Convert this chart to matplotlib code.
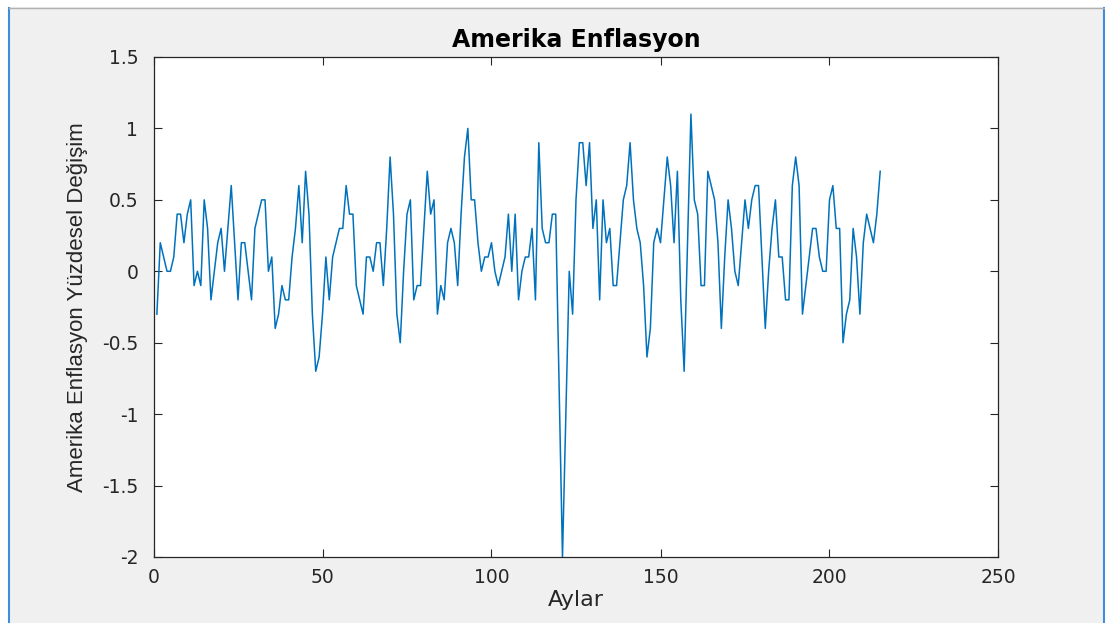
import matplotlib
matplotlib.use("Agg")
import matplotlib.pyplot as plt
from matplotlib.patches import Rectangle
from matplotlib.lines import Line2D
import numpy as np

# ---- data (monthly % change) ----
values = [
    -0.3, 0.2, 0.1, 0.0, 0.0, 0.1, 0.4, 0.4, 0.2, 0.4,
    0.5, -0.1, 0.0, -0.1, 0.5, 0.3, -0.2, 0.0, 0.2, 0.3,
    0.0, 0.3, 0.6, 0.2, -0.2, 0.2, 0.2, 0.0, -0.2, 0.3,
    0.4, 0.5, 0.5, 0.0, 0.1, -0.4, -0.3, -0.1, -0.2, -0.2,
    0.1, 0.3, 0.6, 0.2, 0.7, 0.4, -0.3, -0.7, -0.6, -0.3,
    0.1, -0.2, 0.1, 0.2, 0.3, 0.3, 0.6, 0.4, 0.4, -0.1,
    -0.2, -0.3, 0.1, 0.1, 0.0, 0.2, 0.2, -0.1, 0.3, 0.8,
    0.4, -0.3, -0.5, 0.0, 0.4, 0.5, -0.2, -0.1, -0.1, 0.3,
    0.7, 0.4, 0.5, -0.3, -0.1, -0.2, 0.2, 0.3, 0.2, -0.1,
    0.4, 0.8, 1.0, 0.5, 0.5, 0.2, 0.0, 0.1, 0.1, 0.2,
    0.0, -0.1, 0.0, 0.1, 0.4, 0.0, 0.4, -0.2, 0.0, 0.1,
    0.1, 0.3, -0.2, 0.9, 0.3, 0.2, 0.2, 0.4, 0.4, -0.8,
    -2.0, -1.0, 0.0, -0.3, 0.5, 0.9, 0.9, 0.6, 0.9, 0.3,
    0.5, -0.2, 0.5, 0.2, 0.3, -0.1, -0.1, 0.2, 0.5, 0.6,
    0.9, 0.5, 0.3, 0.2, -0.1, -0.6, -0.4, 0.2, 0.3, 0.2,
    0.5, 0.8, 0.6, 0.2, 0.7, -0.2, -0.7, 0.2, 1.1, 0.5,
    0.4, -0.1, -0.1, 0.7, 0.6, 0.5, 0.2, -0.4, 0.1, 0.5,
    0.3, 0.0, -0.1, 0.2, 0.5, 0.3, 0.5, 0.6, 0.6, 0.1,
    -0.4, 0.0, 0.3, 0.5, 0.1, 0.1, -0.2, -0.2, 0.6, 0.8,
    0.6, -0.3, -0.1, 0.1, 0.3, 0.3, 0.1, 0.0, 0.0, 0.5,
    0.6, 0.3, 0.3, -0.5, -0.3, -0.2, 0.3, 0.1, -0.3, 0.2,
    0.4, 0.3, 0.2, 0.4, 0.7,
]
months = list(range(1, len(values) + 1))

x_ticks = [0, 50, 100, 150, 200, 250]
y_ticks = [-2, -1.5, -1, -0.5, 0, 0.5, 1, 1.5]
y_tick_labels = ["-2", "-1.5", "-1", "-0.5", "0", "0.5", "1", "1.5"]

title_text = "Amerika Enflasyon"
x_label = "Aylar"
y_label = "Amerika Enflasyon Yüzdesel Değişim"

# ---- figure ----
W, H = 1105, 623
fig = plt.figure(figsize=(W / 100, H / 100), dpi=100, facecolor="white")

# window-like frame
fig.add_artist(Rectangle((9 / W, 0), (1103 - 9) / W, 1 - 7 / H,
                         transform=fig.transFigure, facecolor="#F0F0F0",
                         edgecolor="none", zorder=0))
fig.add_artist(Line2D([8.5 / W, 8.5 / W], [0, 1 - 7.5 / H], transform=fig.transFigure,
                      color="#3D8EDB", lw=1.5, zorder=1))
fig.add_artist(Line2D([1103.5 / W, 1103.5 / W], [0, 1 - 7.5 / H], transform=fig.transFigure,
                      color="#3D8EDB", lw=1.5, zorder=1))
fig.add_artist(Line2D([8.5 / W, 1103.5 / W], [1 - 7.5 / H, 1 - 7.5 / H], transform=fig.transFigure,
                      color="#B0B0B0", lw=1.0, zorder=1))

ax = fig.add_axes([153.5 / W, 1 - 557 / H, (998.5 - 153.5) / W, 500 / H])
ax.set_facecolor("white")
ax.plot(months, values, color="#0072BD", lw=1.1)

ax.set_xlim(0, 250)
ax.set_ylim(-2, 1.5)
ax.set_xticks(x_ticks)
ax.set_xticklabels([str(t) for t in x_ticks])
ax.set_yticks(y_ticks)
ax.set_yticklabels(y_tick_labels)

tick_color = "#262626"
for s in ax.spines.values():
    s.set_color(tick_color)
    s.set_linewidth(0.9)
ax.tick_params(direction="in", length=6, width=0.8, colors=tick_color,
               top=True, right=True, labelsize=13.5)
ax.tick_params(axis="x", pad=8)
ax.tick_params(axis="y", pad=11)
for lab in ax.get_xticklabels() + ax.get_yticklabels():
    lab.set_family("DejaVu Sans")

ax.set_title(title_text, fontsize=17, fontweight="bold", color="black",
             pad=7, family="DejaVu Sans")
ax.set_xlabel(x_label, fontsize=16, color=tick_color, labelpad=2, family="DejaVu Sans")
ax.set_ylabel(y_label, fontsize=16, color=tick_color, labelpad=10,
              family=["Liberation Sans", "DejaVu Sans"])

fig.savefig("out.png", dpi=100, facecolor=fig.get_facecolor())
